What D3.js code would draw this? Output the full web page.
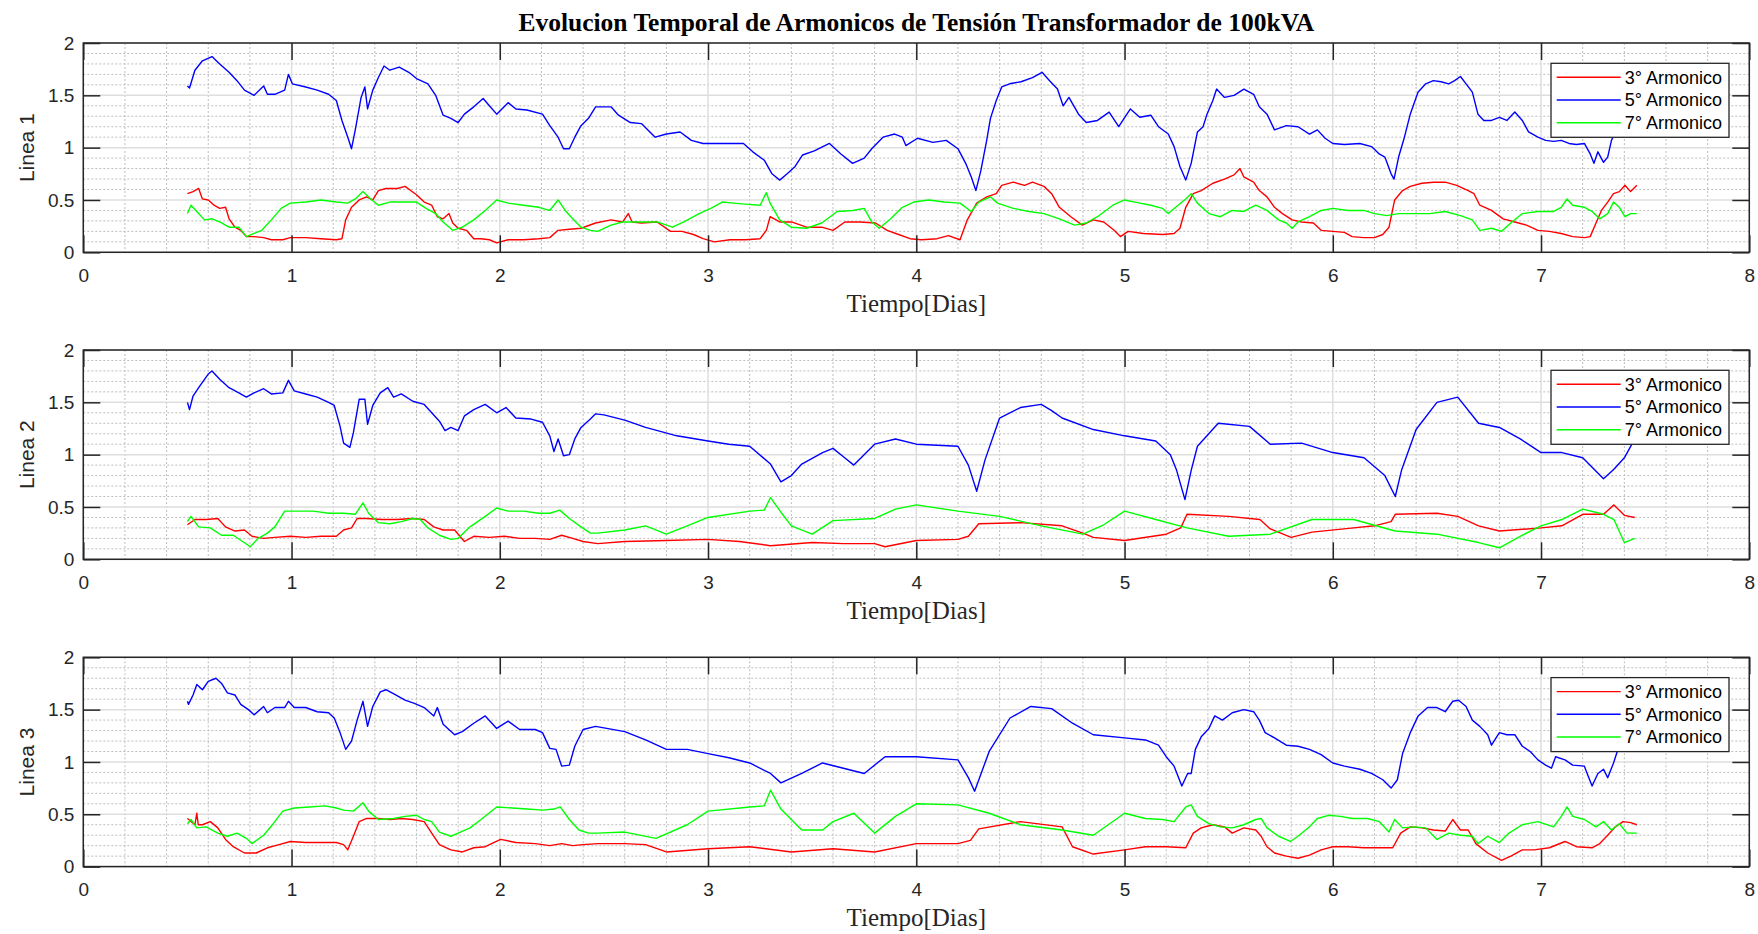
<!DOCTYPE html>
<html><head><meta charset="utf-8">
<script src="https://cdn.jsdelivr.net/npm/d3@7"></script>
<style>body{margin:0;background:#fff}</style>
</head><body>
<svg id="chart" width="1758" height="934"></svg>
<script>
// ---------- Data ----------
const titleText = "Evolucion Temporal de Armonicos de Tensión Transformador de 100kVA";
const panelLabels = ["Linea 1", "Linea 2", "Linea 3"];
const xLabel = "Tiempo[Dias]";
const seriesNames = ["3° Armonico", "5° Armonico", "7° Armonico"];
const xTicks = [0, 1, 2, 3, 4, 5, 6, 7, 8];
const yTicks = [0, 0.5, 1, 1.5, 2];
const yTickLabels = ["0", "0.5", "1", "1.5", "2"];

const L1_h3 = [[0.50,0.56],[0.527,0.58],[0.554,0.61],[0.572,0.51],[0.60,0.50],[0.628,0.45],[0.655,0.42],[0.683,0.43],[0.70,0.32],[0.728,0.24],[0.756,0.21],[0.783,0.15],[0.82,0.15],[0.866,0.14],[0.903,0.12],[0.958,0.12],[0.994,0.14],[1.068,0.14],[1.141,0.13],[1.215,0.12],[1.242,0.13],[1.26,0.31],[1.288,0.43],[1.325,0.50],[1.36,0.53],[1.39,0.50],[1.417,0.59],[1.453,0.61],[1.508,0.61],[1.545,0.63],[1.572,0.59],[1.60,0.55],[1.637,0.48],[1.673,0.45],[1.70,0.34],[1.728,0.32],[1.756,0.37],[1.774,0.28],[1.80,0.23],[1.84,0.21],[1.875,0.13],[1.91,0.13],[1.95,0.12],[1.985,0.09],[2.04,0.12],[2.114,0.12],[2.187,0.13],[2.24,0.14],[2.28,0.21],[2.334,0.22],[2.39,0.23],[2.46,0.28],[2.534,0.31],[2.59,0.29],[2.617,0.37],[2.635,0.29],[2.68,0.28],[2.755,0.29],[2.82,0.20],[2.875,0.20],[2.93,0.17],[2.976,0.13],[3.03,0.10],[3.105,0.12],[3.18,0.12],[3.25,0.13],[3.28,0.21],[3.298,0.34],[3.344,0.29],[3.40,0.29],[3.473,0.24],[3.546,0.24],[3.60,0.21],[3.657,0.29],[3.73,0.29],[3.804,0.28],[3.86,0.21],[3.915,0.17],[3.97,0.13],[4.025,0.12],[4.10,0.13],[4.154,0.16],[4.21,0.12],[4.245,0.31],[4.29,0.47],[4.338,0.53],[4.384,0.56],[4.41,0.64],[4.466,0.67],[4.52,0.64],[4.558,0.67],[4.613,0.63],[4.65,0.56],[4.687,0.43],[4.742,0.34],[4.797,0.26],[4.85,0.31],[4.90,0.29],[4.95,0.21],[4.98,0.15],[5.017,0.20],[5.09,0.18],[5.182,0.17],[5.238,0.18],[5.266,0.23],[5.294,0.43],[5.33,0.56],[5.368,0.59],[5.424,0.66],[5.48,0.70],[5.526,0.74],[5.554,0.80],[5.573,0.72],[5.62,0.67],[5.647,0.59],[5.684,0.53],[5.72,0.43],[5.758,0.37],[5.805,0.31],[5.85,0.29],[5.907,0.28],[5.944,0.21],[6.0,0.20],[6.056,0.19],[6.093,0.15],[6.149,0.14],[6.2,0.14],[6.24,0.17],[6.27,0.24],[6.297,0.50],[6.335,0.59],[6.372,0.63],[6.428,0.66],[6.483,0.67],[6.54,0.67],[6.595,0.64],[6.65,0.59],[6.678,0.56],[6.706,0.45],[6.762,0.40],[6.818,0.32],[6.874,0.29],[6.93,0.26],[6.985,0.21],[7.04,0.20],[7.097,0.18],[7.152,0.15],[7.208,0.14],[7.236,0.15],[7.264,0.28],[7.29,0.40],[7.32,0.48],[7.348,0.56],[7.376,0.58],[7.403,0.64],[7.43,0.58],[7.46,0.64]];
const L1_h5 = [[0.50,1.59],[0.51,1.57],[0.536,1.74],[0.572,1.83],[0.618,1.87],[0.655,1.80],[0.70,1.72],[0.738,1.64],[0.774,1.55],[0.82,1.50],[0.866,1.59],[0.884,1.51],[0.92,1.51],[0.967,1.55],[0.985,1.70],[1.004,1.61],[1.068,1.58],[1.123,1.55],[1.178,1.51],[1.215,1.45],[1.242,1.26],[1.27,1.10],[1.288,0.99],[1.306,1.17],[1.334,1.48],[1.352,1.58],[1.365,1.37],[1.39,1.55],[1.417,1.67],[1.444,1.78],[1.472,1.74],[1.517,1.77],[1.563,1.72],[1.60,1.66],[1.655,1.61],[1.692,1.50],[1.728,1.31],[1.765,1.28],[1.80,1.24],[1.83,1.32],[1.875,1.39],[1.92,1.47],[1.95,1.40],[1.985,1.32],[2.04,1.43],[2.077,1.37],[2.13,1.36],[2.205,1.32],[2.24,1.21],[2.28,1.10],[2.306,0.99],[2.334,0.99],[2.36,1.10],[2.39,1.21],[2.426,1.28],[2.46,1.39],[2.534,1.39],[2.57,1.31],[2.627,1.24],[2.68,1.23],[2.746,1.10],[2.80,1.13],[2.866,1.15],[2.92,1.07],[2.976,1.04],[3.03,1.04],[3.105,1.04],[3.17,1.04],[3.215,0.96],[3.27,0.88],[3.307,0.75],[3.344,0.69],[3.38,0.75],[3.418,0.82],[3.454,0.93],[3.51,0.97],[3.583,1.04],[3.638,0.94],[3.694,0.85],[3.75,0.90],[3.786,0.99],[3.84,1.10],[3.896,1.13],[3.933,1.10],[3.95,1.02],[4.006,1.09],[4.08,1.05],[4.144,1.07],[4.20,0.99],[4.237,0.85],[4.264,0.72],[4.286,0.59],[4.31,0.78],[4.338,1.07],[4.356,1.28],[4.384,1.45],[4.41,1.58],[4.448,1.61],[4.503,1.63],[4.558,1.67],[4.604,1.72],[4.64,1.64],[4.678,1.56],[4.705,1.40],[4.733,1.48],[4.779,1.32],[4.816,1.24],[4.87,1.26],[4.926,1.34],[4.972,1.20],[5.028,1.37],[5.073,1.29],[5.126,1.31],[5.163,1.20],[5.21,1.13],[5.238,1.01],[5.266,0.82],[5.294,0.69],[5.32,0.85],[5.35,1.15],[5.377,1.20],[5.396,1.32],[5.424,1.45],[5.442,1.56],[5.48,1.48],[5.526,1.50],[5.573,1.56],[5.62,1.51],[5.647,1.39],[5.684,1.32],[5.72,1.17],[5.777,1.21],[5.833,1.20],[5.888,1.13],[5.926,1.17],[5.963,1.09],[6.0,1.04],[6.056,1.03],[6.13,1.04],[6.186,1.01],[6.223,0.94],[6.25,0.91],[6.28,0.75],[6.294,0.70],[6.316,0.91],[6.344,1.10],[6.372,1.32],[6.409,1.53],[6.446,1.61],[6.483,1.64],[6.52,1.63],[6.557,1.61],[6.585,1.64],[6.613,1.68],[6.64,1.61],[6.67,1.53],[6.697,1.32],[6.725,1.26],[6.762,1.26],[6.80,1.29],[6.836,1.26],[6.874,1.34],[6.91,1.26],[6.94,1.15],[6.985,1.10],[7.022,1.07],[7.06,1.06],[7.097,1.07],[7.134,1.04],[7.17,1.03],[7.208,1.04],[7.236,0.94],[7.254,0.85],[7.273,0.96],[7.30,0.86],[7.32,0.91],[7.338,1.07],[7.353,1.13],[7.40,1.25],[7.45,1.30]];
const L1_h7 = [[0.50,0.37],[0.517,0.45],[0.545,0.39],[0.582,0.31],[0.618,0.32],[0.655,0.29],[0.70,0.24],[0.747,0.24],[0.783,0.15],[0.82,0.18],[0.857,0.21],[0.903,0.31],[0.95,0.42],[0.994,0.47],[1.068,0.48],[1.141,0.50],[1.215,0.48],[1.27,0.47],[1.306,0.51],[1.343,0.58],[1.38,0.51],[1.417,0.45],[1.472,0.48],[1.545,0.48],[1.60,0.48],[1.646,0.42],[1.692,0.37],[1.728,0.29],[1.774,0.21],[1.82,0.24],[1.875,0.31],[1.93,0.40],[1.985,0.50],[2.04,0.47],[2.114,0.45],[2.187,0.43],[2.24,0.40],[2.28,0.50],[2.314,0.40],[2.35,0.32],[2.39,0.24],[2.435,0.21],[2.47,0.20],[2.534,0.26],[2.59,0.29],[2.663,0.29],[2.755,0.29],[2.829,0.24],[2.884,0.29],[2.957,0.37],[3.013,0.42],[3.068,0.48],[3.123,0.47],[3.178,0.46],[3.25,0.45],[3.28,0.57],[3.298,0.47],[3.344,0.31],[3.40,0.24],[3.473,0.23],[3.546,0.28],[3.62,0.39],[3.694,0.40],[3.75,0.42],[3.786,0.29],[3.822,0.23],[3.877,0.32],[3.933,0.43],[3.988,0.48],[4.06,0.50],[4.134,0.48],[4.21,0.47],[4.264,0.39],[4.30,0.48],[4.356,0.53],[4.39,0.47],[4.466,0.42],[4.54,0.39],[4.613,0.37],[4.687,0.32],[4.76,0.26],[4.816,0.28],[4.87,0.34],[4.944,0.45],[5.0,0.50],[5.05,0.48],[5.126,0.45],[5.182,0.42],[5.21,0.37],[5.257,0.45],[5.294,0.51],[5.32,0.56],[5.35,0.47],[5.405,0.37],[5.46,0.34],[5.517,0.40],[5.573,0.39],[5.63,0.45],[5.684,0.40],[5.74,0.31],[5.777,0.28],[5.805,0.23],[5.833,0.29],[5.888,0.34],[5.944,0.40],[6.0,0.42],[6.074,0.40],[6.149,0.40],[6.2,0.37],[6.26,0.35],[6.316,0.37],[6.39,0.37],[6.465,0.37],[6.54,0.39],[6.613,0.35],[6.67,0.31],[6.706,0.21],[6.762,0.23],[6.81,0.20],[6.855,0.28],[6.91,0.37],[6.985,0.39],[7.06,0.39],[7.097,0.43],[7.125,0.51],[7.152,0.45],[7.208,0.43],[7.245,0.39],[7.282,0.32],[7.32,0.37],[7.348,0.48],[7.376,0.43],[7.403,0.34],[7.43,0.37],[7.46,0.37]];

const L2_h3 = [[0.50,0.33],[0.536,0.38],[0.59,0.38],[0.646,0.39],[0.683,0.31],[0.728,0.27],[0.774,0.28],[0.81,0.22],[0.866,0.20],[0.92,0.21],[0.994,0.22],[1.068,0.21],[1.141,0.22],[1.215,0.22],[1.25,0.28],[1.288,0.30],[1.315,0.39],[1.36,0.39],[1.435,0.38],[1.508,0.38],[1.582,0.39],[1.637,0.38],[1.683,0.31],[1.728,0.28],[1.783,0.28],[1.83,0.17],[1.875,0.22],[1.95,0.21],[2.022,0.22],[2.095,0.20],[2.17,0.20],[2.24,0.19],[2.297,0.23],[2.35,0.20],[2.40,0.17],[2.47,0.15],[2.6,0.17],[2.8,0.18],[3.0,0.19],[3.15,0.17],[3.3,0.13],[3.5,0.16],[3.65,0.15],[3.8,0.15],[3.85,0.12],[4.0,0.18],[4.2,0.19],[4.25,0.22],[4.3,0.34],[4.5,0.35],[4.7,0.32],[4.8,0.25],[4.85,0.21],[5.0,0.18],[5.2,0.24],[5.27,0.30],[5.3,0.43],[5.5,0.41],[5.65,0.38],[5.7,0.29],[5.8,0.21],[5.9,0.26],[6.1,0.30],[6.2,0.32],[6.28,0.36],[6.3,0.43],[6.5,0.44],[6.6,0.41],[6.7,0.32],[6.8,0.27],[7.0,0.30],[7.1,0.32],[7.2,0.43],[7.3,0.43],[7.35,0.52],[7.4,0.42],[7.45,0.40]];
const L2_h5 = [[0.50,1.50],[0.51,1.43],[0.527,1.56],[0.554,1.64],[0.60,1.77],[0.618,1.80],[0.655,1.72],[0.70,1.64],[0.747,1.59],[0.783,1.55],[0.82,1.59],[0.866,1.63],[0.903,1.58],[0.958,1.59],[0.985,1.71],[1.013,1.61],[1.068,1.58],[1.123,1.55],[1.178,1.50],[1.205,1.47],[1.233,1.27],[1.25,1.11],[1.28,1.07],[1.297,1.21],[1.325,1.53],[1.352,1.53],[1.365,1.29],[1.39,1.47],[1.426,1.59],[1.462,1.64],[1.49,1.55],[1.527,1.58],[1.582,1.51],[1.637,1.48],[1.673,1.40],[1.71,1.32],[1.737,1.23],[1.765,1.26],[1.80,1.23],[1.83,1.37],[1.875,1.43],[1.93,1.48],[1.985,1.40],[2.03,1.45],[2.077,1.35],[2.15,1.34],[2.205,1.31],[2.24,1.18],[2.26,1.03],[2.28,1.15],[2.306,0.99],[2.334,1.00],[2.36,1.15],[2.39,1.26],[2.435,1.34],[2.46,1.39],[2.5,1.38],[2.6,1.33],[2.7,1.26],[2.85,1.18],[3.0,1.13],[3.1,1.10],[3.2,1.08],[3.3,0.91],[3.35,0.74],[3.4,0.80],[3.45,0.91],[3.55,1.02],[3.6,1.06],[3.65,0.98],[3.7,0.90],[3.8,1.10],[3.9,1.15],[4.0,1.10],[4.1,1.09],[4.2,1.08],[4.25,0.90],[4.29,0.65],[4.33,0.95],[4.4,1.35],[4.5,1.45],[4.6,1.48],[4.65,1.42],[4.7,1.35],[4.85,1.24],[5.0,1.18],[5.15,1.13],[5.22,1.00],[5.25,0.85],[5.29,0.57],[5.32,0.85],[5.35,1.08],[5.45,1.30],[5.6,1.27],[5.7,1.10],[5.85,1.11],[6.0,1.02],[6.15,0.97],[6.25,0.80],[6.3,0.60],[6.33,0.85],[6.4,1.24],[6.5,1.50],[6.6,1.55],[6.7,1.30],[6.8,1.26],[6.9,1.15],[7.0,1.02],[7.1,1.02],[7.2,0.97],[7.3,0.77],[7.35,0.86],[7.4,0.97],[7.45,1.15]];
const L2_h7 = [[0.50,0.36],[0.517,0.41],[0.554,0.31],[0.61,0.30],[0.664,0.23],[0.72,0.23],[0.765,0.17],[0.802,0.12],[0.84,0.20],[0.884,0.25],[0.92,0.31],[0.967,0.46],[1.03,0.46],[1.105,0.46],[1.178,0.44],[1.25,0.44],[1.306,0.43],[1.343,0.54],[1.37,0.44],[1.417,0.35],[1.472,0.34],[1.527,0.36],[1.582,0.39],[1.618,0.38],[1.655,0.30],[1.71,0.23],[1.765,0.19],[1.80,0.20],[1.857,0.31],[1.93,0.41],[1.985,0.49],[2.04,0.46],[2.114,0.46],[2.187,0.44],[2.24,0.44],[2.288,0.47],[2.334,0.39],[2.39,0.31],[2.435,0.25],[2.47,0.25],[2.6,0.28],[2.7,0.32],[2.8,0.24],[2.9,0.32],[3.0,0.40],[3.2,0.46],[3.27,0.47],[3.3,0.59],[3.35,0.45],[3.4,0.32],[3.5,0.24],[3.6,0.37],[3.8,0.39],[3.9,0.48],[4.0,0.52],[4.2,0.46],[4.4,0.41],[4.6,0.32],[4.8,0.24],[4.9,0.33],[5.0,0.46],[5.15,0.38],[5.3,0.30],[5.5,0.22],[5.7,0.24],[5.9,0.38],[6.1,0.38],[6.3,0.27],[6.5,0.24],[6.7,0.16],[6.8,0.11],[6.9,0.22],[7.0,0.32],[7.1,0.38],[7.2,0.48],[7.3,0.43],[7.35,0.38],[7.4,0.16],[7.45,0.20]];

const L3_h3 = [[0.50,0.46],[0.536,0.40],[0.545,0.51],[0.552,0.40],[0.572,0.40],[0.61,0.43],[0.646,0.37],[0.683,0.26],[0.72,0.19],[0.774,0.13],[0.83,0.13],[0.884,0.18],[0.94,0.21],[0.994,0.24],[1.068,0.23],[1.141,0.23],[1.215,0.23],[1.25,0.21],[1.27,0.16],[1.297,0.29],[1.325,0.43],[1.36,0.46],[1.417,0.46],[1.472,0.45],[1.527,0.46],[1.582,0.45],[1.637,0.43],[1.673,0.32],[1.71,0.21],[1.765,0.16],[1.82,0.14],[1.875,0.18],[1.93,0.19],[2.004,0.26],[2.077,0.23],[2.17,0.22],[2.24,0.20],[2.297,0.22],[2.35,0.20],[2.40,0.21],[2.47,0.22],[2.6,0.22],[2.7,0.21],[2.8,0.14],[3.0,0.17],[3.2,0.19],[3.4,0.14],[3.6,0.17],[3.8,0.14],[4.0,0.22],[4.2,0.22],[4.26,0.25],[4.3,0.36],[4.5,0.43],[4.7,0.38],[4.75,0.19],[4.85,0.12],[5.0,0.16],[5.1,0.19],[5.2,0.19],[5.294,0.18],[5.33,0.32],[5.368,0.37],[5.424,0.40],[5.48,0.38],[5.517,0.32],[5.573,0.37],[5.63,0.35],[5.656,0.29],[5.684,0.19],[5.72,0.13],[5.777,0.10],[5.833,0.08],[5.888,0.11],[5.944,0.16],[6.0,0.19],[6.074,0.19],[6.149,0.18],[6.223,0.18],[6.288,0.18],[6.326,0.32],[6.372,0.38],[6.428,0.37],[6.483,0.35],[6.54,0.34],[6.576,0.45],[6.613,0.35],[6.65,0.35],[6.687,0.22],[6.744,0.13],[6.81,0.06],[6.855,0.10],[6.91,0.16],[6.967,0.16],[7.04,0.18],[7.115,0.24],[7.17,0.19],[7.245,0.18],[7.282,0.22],[7.32,0.30],[7.357,0.38],[7.394,0.43],[7.43,0.42],[7.46,0.40]];
const L3_h5 = [[0.50,1.58],[0.505,1.55],[0.527,1.64],[0.545,1.74],[0.572,1.69],[0.60,1.77],[0.637,1.80],[0.664,1.75],[0.692,1.66],[0.728,1.64],[0.756,1.55],[0.793,1.50],[0.82,1.45],[0.866,1.53],[0.884,1.47],[0.92,1.52],[0.967,1.52],[0.985,1.58],[1.013,1.52],[1.068,1.52],[1.123,1.48],[1.178,1.47],[1.205,1.42],[1.233,1.28],[1.26,1.12],[1.288,1.20],[1.315,1.40],[1.343,1.58],[1.365,1.34],[1.39,1.53],[1.426,1.67],[1.453,1.69],[1.50,1.64],[1.545,1.59],[1.59,1.56],[1.637,1.52],[1.683,1.44],[1.70,1.52],[1.728,1.36],[1.783,1.26],[1.82,1.29],[1.875,1.37],[1.93,1.44],[1.985,1.32],[2.04,1.39],[2.095,1.31],[2.17,1.31],[2.205,1.28],[2.24,1.13],[2.27,1.12],[2.297,0.96],[2.334,0.97],[2.36,1.15],[2.40,1.31],[2.46,1.34],[2.6,1.29],[2.7,1.21],[2.8,1.12],[2.9,1.12],[3.0,1.08],[3.1,1.04],[3.2,0.99],[3.3,0.89],[3.35,0.80],[3.45,0.89],[3.55,0.99],[3.65,0.94],[3.75,0.89],[3.85,1.05],[4.0,1.05],[4.2,1.02],[4.25,0.85],[4.28,0.72],[4.35,1.10],[4.45,1.42],[4.55,1.53],[4.65,1.51],[4.75,1.37],[4.85,1.26],[5.0,1.23],[5.1,1.21],[5.163,1.16],[5.2,1.05],[5.238,0.96],[5.275,0.77],[5.303,0.89],[5.32,0.89],[5.34,1.12],[5.368,1.24],[5.405,1.32],[5.433,1.44],[5.47,1.40],[5.517,1.47],[5.573,1.50],[5.62,1.48],[5.647,1.40],[5.675,1.28],[5.72,1.23],[5.777,1.16],[5.833,1.15],[5.888,1.12],[5.944,1.07],[6.0,0.99],[6.056,0.96],[6.13,0.93],[6.186,0.89],[6.24,0.83],[6.28,0.75],[6.31,0.83],[6.335,1.08],[6.372,1.28],[6.41,1.44],[6.455,1.52],[6.5,1.52],[6.54,1.48],[6.576,1.58],[6.604,1.59],[6.64,1.53],[6.67,1.40],[6.706,1.34],[6.744,1.26],[6.762,1.16],[6.8,1.28],[6.836,1.26],[6.874,1.26],[6.91,1.15],[6.948,1.10],[6.985,1.02],[7.022,0.97],[7.05,0.94],[7.07,1.05],[7.115,1.02],[7.152,0.97],[7.208,0.96],[7.227,0.86],[7.245,0.77],[7.273,0.89],[7.30,0.93],[7.32,0.85],[7.348,0.99],[7.366,1.10],[7.40,1.22],[7.45,1.30]];
const L3_h7 = [[0.50,0.41],[0.517,0.45],[0.545,0.37],[0.59,0.38],[0.646,0.32],[0.692,0.29],[0.738,0.32],[0.783,0.27],[0.81,0.22],[0.866,0.30],[0.912,0.41],[0.958,0.53],[1.013,0.56],[1.086,0.57],[1.16,0.58],[1.215,0.56],[1.25,0.54],[1.297,0.53],[1.343,0.61],[1.37,0.53],[1.417,0.45],[1.49,0.46],[1.545,0.48],[1.60,0.49],[1.637,0.45],[1.673,0.43],[1.71,0.33],[1.765,0.29],[1.80,0.32],[1.857,0.37],[1.91,0.45],[1.985,0.57],[2.06,0.56],[2.13,0.55],[2.205,0.54],[2.26,0.55],[2.29,0.57],[2.334,0.45],[2.38,0.35],[2.426,0.32],[2.47,0.32],[2.6,0.33],[2.75,0.27],[2.9,0.40],[3.0,0.53],[3.2,0.57],[3.27,0.58],[3.3,0.73],[3.35,0.55],[3.45,0.35],[3.55,0.35],[3.6,0.43],[3.7,0.51],[3.8,0.32],[3.9,0.48],[4.0,0.60],[4.2,0.59],[4.35,0.51],[4.5,0.40],[4.7,0.35],[4.85,0.30],[5.0,0.51],[5.1,0.46],[5.182,0.45],[5.238,0.43],[5.294,0.57],[5.32,0.59],[5.35,0.48],[5.405,0.41],[5.46,0.38],[5.517,0.37],[5.573,0.40],[5.63,0.45],[5.656,0.46],[5.684,0.37],[5.74,0.29],[5.796,0.24],[5.833,0.29],[5.888,0.38],[5.926,0.46],[5.98,0.49],[6.037,0.48],[6.093,0.46],[6.167,0.46],[6.223,0.43],[6.27,0.33],[6.297,0.45],[6.335,0.37],[6.39,0.38],[6.446,0.37],[6.5,0.26],[6.557,0.32],[6.613,0.30],[6.67,0.29],[6.697,0.22],[6.744,0.29],[6.8,0.23],[6.846,0.32],[6.91,0.40],[6.985,0.43],[7.06,0.38],[7.097,0.48],[7.125,0.57],[7.152,0.48],[7.208,0.45],[7.264,0.38],[7.30,0.43],[7.338,0.35],[7.376,0.41],[7.413,0.32],[7.46,0.32]];

const panelSeries = [[L1_h3, L1_h5, L1_h7], [L2_h3, L2_h5, L2_h7], [L3_h3, L3_h5, L3_h7]];
const seriesColors = ["#ff0000", "#0000ff", "#00ff00"];

// ---------- Layout ----------
const svg = d3.select("#chart");
svg.append("rect").attr("width", 1758).attr("height", 934).attr("fill", "#fff");
const plotLeft = 83.3, plotRight = 1749.3, plotH = 209.3;
const panelTops = [43, 350, 657.3];
const x = d3.scaleLinear().domain([0, 8]).range([plotLeft, plotRight]);
const axisColor = "#262626";
const tickFont = "'Liberation Sans', Arial, sans-serif";

svg.append("text").attr("x", (plotLeft + plotRight) / 2).attr("y", 31)
  .attr("text-anchor", "middle").attr("font-family", "'Liberation Serif', 'Times New Roman', serif")
  .attr("font-weight", "bold").attr("font-size", 25.5).attr("fill", "#000").text(titleText);

const minorX = d3.range(0, 8.001, 0.2).filter(v => Math.abs(v - Math.round(v)) > 1e-6);
const minorY = d3.range(0, 2.001, 0.1).filter(v => Math.abs(v * 2 - Math.round(v * 2)) > 1e-6);

panelTops.forEach((top, pi) => {
  const bottom = top + plotH;
  const y = d3.scaleLinear().domain([0, 2]).range([bottom, top]);
  const g = svg.append("g");
  const clipId = "clip" + pi;
  g.append("clipPath").attr("id", clipId).append("rect")
    .attr("x", plotLeft).attr("y", top).attr("width", plotRight - plotLeft).attr("height", plotH);

  // minor grid (dotted)
  g.append("g").selectAll("line").data(minorX).join("line")
    .attr("x1", d => x(d)).attr("x2", d => x(d)).attr("y1", top).attr("y2", bottom)
    .attr("stroke", "#bdbdbd").attr("stroke-width", 1).attr("stroke-dasharray", "2,2");
  g.append("g").selectAll("line").data(minorY).join("line")
    .attr("x1", plotLeft).attr("x2", plotRight).attr("y1", d => y(d)).attr("y2", d => y(d))
    .attr("stroke", "#bdbdbd").attr("stroke-width", 1).attr("stroke-dasharray", "2,2");
  // major grid
  g.append("g").selectAll("line").data(xTicks).join("line")
    .attr("x1", d => x(d)).attr("x2", d => x(d)).attr("y1", top).attr("y2", bottom)
    .attr("stroke", "#dedede").attr("stroke-width", 1.5);
  g.append("g").selectAll("line").data(yTicks).join("line")
    .attr("x1", plotLeft).attr("x2", plotRight).attr("y1", d => y(d)).attr("y2", d => y(d))
    .attr("stroke", "#dedede").attr("stroke-width", 1.5);

  // series
  const line = d3.line().x(d => x(d[0])).y(d => y(d[1]));
  const lg = g.append("g").attr("clip-path", `url(#${clipId})`);
  panelSeries[pi].forEach((s, si) => {
    lg.append("path").datum(s).attr("d", line).attr("fill", "none")
      .attr("stroke", seriesColors[si]).attr("stroke-width", 1.4).attr("stroke-linejoin", "round");
  });

  // axes with inward ticks
  const styleAxis = sel => {
    sel.select(".domain").remove();
    sel.selectAll(".tick line").attr("stroke", axisColor).attr("stroke-width", 1.5);
    sel.selectAll(".tick text").attr("fill", axisColor).attr("font-family", tickFont).attr("font-size", 19);
  };
  g.append("g").attr("transform", `translate(0,${bottom})`)
    .call(d3.axisBottom(x).tickValues(xTicks).tickFormat(d3.format("d")).tickSize(-17).tickPadding(16)).call(styleAxis);
  g.append("g").attr("transform", `translate(0,${top})`)
    .call(d3.axisTop(x).tickValues(xTicks).tickFormat("").tickSize(-17)).call(styleAxis);
  g.append("g").attr("transform", `translate(${plotLeft},0)`)
    .call(d3.axisLeft(y).tickValues(yTicks).tickFormat((d, i) => yTickLabels[i]).tickSize(-17).tickPadding(9)).call(styleAxis);
  g.append("g").attr("transform", `translate(${plotRight},0)`)
    .call(d3.axisRight(y).tickValues(yTicks).tickFormat("").tickSize(-17)).call(styleAxis);

  // box
  g.append("rect").attr("x", plotLeft).attr("y", top).attr("width", plotRight - plotLeft).attr("height", plotH)
    .attr("fill", "none").attr("stroke", axisColor).attr("stroke-width", 1.5);

  // legend
  const lgX = 1551, lgY = top + 20.3, lgW = 178, lgH = 74;
  const leg = g.append("g");
  leg.append("rect").attr("x", lgX).attr("y", lgY).attr("width", lgW).attr("height", lgH)
    .attr("fill", "#fff").attr("stroke", axisColor).attr("stroke-width", 1.3);
  seriesNames.forEach((nm, si) => {
    const ry = lgY + 14 + si * 22.7;
    leg.append("line").attr("x1", lgX + 5.7).attr("x2", lgX + 69.7).attr("y1", ry).attr("y2", ry)
      .attr("stroke", seriesColors[si]).attr("stroke-width", 1.4);
    leg.append("text").attr("x", lgX + 171).attr("y", ry).attr("dy", "0.36em")
      .attr("text-anchor", "end").attr("font-family", tickFont).attr("font-size", 18)
      .attr("fill", "#000").text(nm);
  });

  // axis labels
  g.append("text").attr("transform", `translate(34,${(top + bottom) / 2}) rotate(-90)`)
    .attr("text-anchor", "middle").attr("font-family", tickFont).attr("font-size", 21)
    .attr("fill", axisColor).text(panelLabels[pi]);
  g.append("text").attr("x", (plotLeft + plotRight) / 2).attr("y", bottom + 59.5)
    .attr("text-anchor", "middle").attr("font-family", "'Liberation Serif', 'Times New Roman', serif")
    .attr("font-size", 25).attr("fill", axisColor).text(xLabel);
});
</script>
</body></html>
